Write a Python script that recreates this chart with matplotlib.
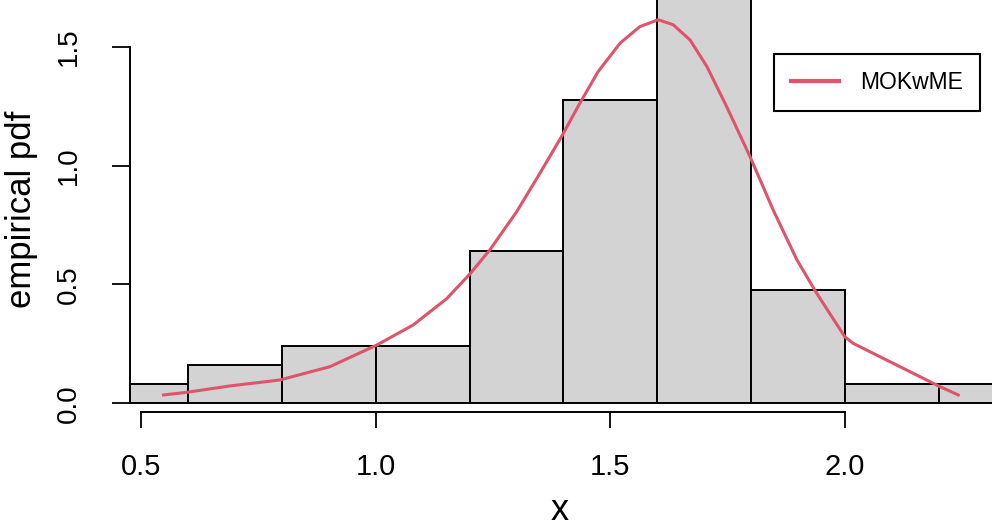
import numpy as np
import matplotlib
matplotlib.use("Agg")
import matplotlib.pyplot as plt

plt.rcParams['font.family'] = ['Liberation Sans', 'DejaVu Sans']

# histogram (density scale), bin width 0.2
bin_edges = [0.4, 0.6, 0.8, 1.0, 1.2, 1.4, 1.6, 1.8, 2.0, 2.2, 2.4]
density = [0.081, 0.162, 0.243, 0.243, 0.642, 1.276, 1.746, 0.477, 0.081, 0.081]

# fitted MOKwME pdf
curve_x = [0.547, 0.596, 0.689, 0.795, 0.902, 1.002, 1.080, 1.151, 1.201, 1.243,
           1.300, 1.350, 1.396, 1.435, 1.474, 1.521, 1.563, 1.602, 1.634, 1.670,
           1.706, 1.748, 1.798, 1.848, 1.898, 1.940, 2.000, 2.018, 2.203, 2.242]
curve_y = [0.035, 0.046, 0.073, 0.098, 0.154, 0.245, 0.330, 0.440, 0.545, 0.645,
           0.805, 0.968, 1.122, 1.262, 1.395, 1.515, 1.584, 1.613, 1.592, 1.528,
           1.416, 1.248, 1.037, 0.810, 0.603, 0.463, 0.280, 0.252, 0.070, 0.035]

x_ticks = [0.5, 1.0, 1.5, 2.0]
y_ticks = [0.0, 0.5, 1.0, 1.5]

W, H = 996, 527
fig = plt.figure(figsize=(W / 100, H / 100), dpi=100)
ax = fig.add_axes([130 / W, 1 - 412.3 / H, (992 - 130) / W, 412.3 / H])

edges = np.array(bin_edges)
ax.bar(edges[:-1], density, width=np.diff(edges), align='edge',
       color='#d3d3d3', edgecolor='black', linewidth=1.4)
ax.plot(curve_x, curve_y, color='#DF536B', linewidth=2.2, label='MOKwME')

ax.set_xlim(0.4755, 2.314)
ax.set_ylim(-0.0379, 1.696)

for s in ['top', 'right']:
    ax.spines[s].set_visible(False)
ax.spines['left'].set_bounds(0, 1.5)
ax.spines['bottom'].set_bounds(0.5, 2.0)
ax.spines['left'].set_linewidth(1.4)
ax.spines['bottom'].set_linewidth(1.4)

ax.set_xticks(x_ticks)
ax.set_xticklabels(['%.1f' % v for v in x_ticks])
ax.set_yticks(y_ticks)
ax.set_yticklabels(['%.1f' % v for v in y_ticks], rotation=90, va='center')
ax.tick_params(axis='x', direction='out', length=11.5, width=1.3, labelsize=21, pad=18)
ax.tick_params(axis='y', direction='out', length=13, width=1.3, labelsize=20, pad=22)

fig.text(559.5 / W, 1 - 511 / H, 'x', fontsize=26, ha='center', va='center')
fig.text(22 / W, 1 - 209 / H, 'empirical pdf', fontsize=25, rotation=90,
         ha='center', va='center')

leg = ax.legend(loc='upper left', bbox_to_anchor=(762.3 / W, 1 - 42.3 / H),
                bbox_transform=fig.transFigure, fontsize=16.5, frameon=True,
                fancybox=False, edgecolor='black', framealpha=1,
                borderpad=0.75, handlelength=2.1, handletextpad=0.9)
leg.get_frame().set_linewidth(1.5)
leg.get_lines()[0].set_linewidth(3)

fig.savefig('out.png', dpi=100)
